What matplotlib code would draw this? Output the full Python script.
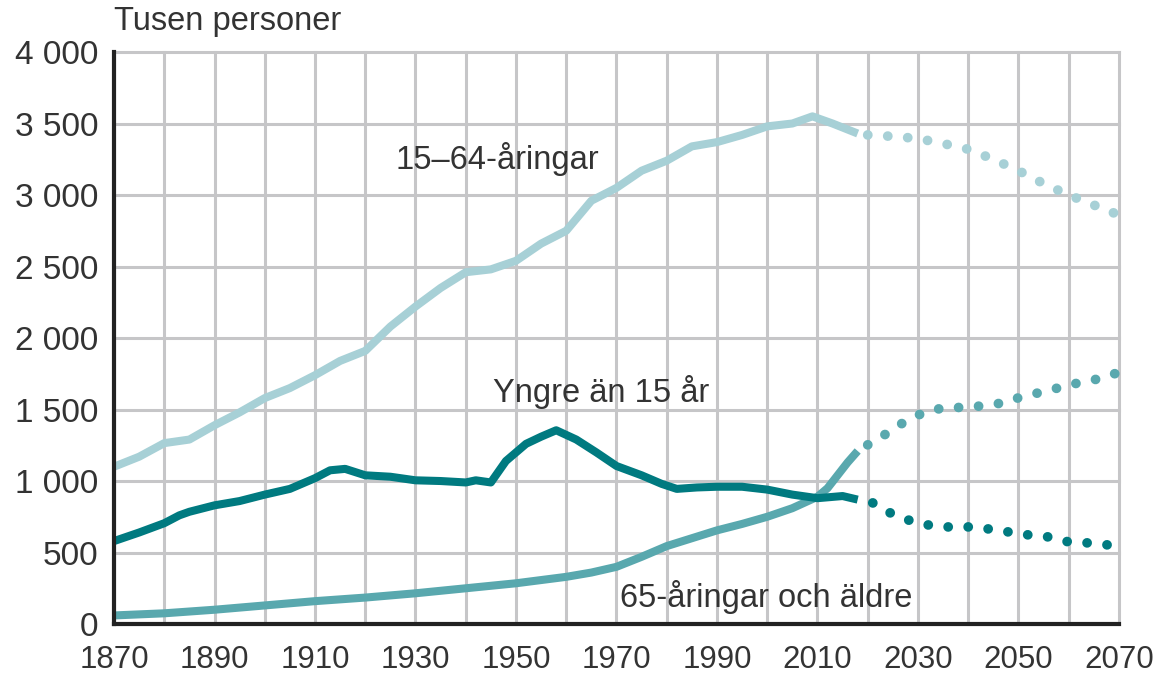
import matplotlib.pyplot as plt
import matplotlib.ticker as mticker

plt.rcParams['font.family'] = ['Liberation Sans', 'DejaVu Sans']

# Data (tusen personer)
yr_1564 = [1870, 1875, 1880, 1885, 1890, 1895, 1900, 1905, 1910, 1915, 1920, 1925,
           1930, 1935, 1940, 1945, 1950, 1955, 1960, 1965, 1970, 1975, 1980, 1985,
           1990, 1995, 2000, 2005, 2009, 2013, 2018]
val_1564 = [1100, 1170, 1265, 1290, 1390, 1480, 1580, 1650, 1740, 1840, 1910, 2080,
            2220, 2350, 2460, 2480, 2540, 2660, 2750, 2960, 3050, 3170, 3240, 3340,
            3370, 3420, 3480, 3500, 3550, 3500, 3430]
yr_1564_p = [2018, 2020, 2025, 2030, 2035, 2040, 2045, 2050, 2055, 2060, 2065, 2070]
val_1564_p = [3430, 3420, 3410, 3395, 3360, 3320, 3250, 3170, 3080, 3000, 2930, 2860]

yr_u15 = [1870, 1875, 1880, 1883, 1885, 1890, 1895, 1900, 1905, 1910, 1913, 1916,
          1920, 1925, 1930, 1935, 1940, 1942, 1945, 1948, 1952, 1955, 1958, 1962,
          1966, 1970, 1975, 1979, 1982, 1986, 1990, 1995, 2000, 2005, 2010, 2015, 2018]
val_u15 = [580, 640, 705, 760, 785, 830, 860, 905, 945, 1020, 1075, 1085,
           1040, 1030, 1005, 1000, 990, 1005, 990, 1140, 1260, 1310, 1355, 1290,
           1200, 1105, 1040, 980, 945, 955, 960, 960, 940, 905, 880, 895, 870]
yr_u15_p = [2018, 2021, 2024, 2028, 2032, 2036, 2040, 2044, 2048, 2052, 2056, 2060,
            2064, 2070]
val_u15_p = [870, 847, 784, 728, 693, 679, 679, 665, 644, 623, 609, 574, 567, 545]

yr_65 = [1870, 1880, 1890, 1900, 1910, 1920, 1930, 1940, 1950, 1960, 1965, 1970,
         1975, 1980, 1985, 1990, 1995, 2000, 2005, 2010, 2012, 2014, 2016, 2018]
val_65 = [60, 75, 100, 130, 160, 185, 215, 250, 285, 330, 360, 400,
          470, 545, 600, 655, 700, 750, 810, 890, 950, 1040, 1130, 1210]
yr_65_p = [2018, 2020, 2024, 2027, 2031, 2035, 2039, 2043, 2047, 2050, 2054, 2058,
           2062, 2066, 2070]
val_65_p = [1210, 1253, 1337, 1407, 1477, 1512, 1515, 1526, 1547, 1582, 1617, 1652,
            1687, 1715, 1760]

c_1564 = '#a7d0d6'
c_u15 = '#007a80'
c_65 = '#59a8ae'
txt = '#333333'

fig = plt.figure(figsize=(11.61, 6.78), dpi=100)
ax = fig.add_axes([0.0982, 0.0796, 0.8656, 0.8437])

dots = (0, (0.01, 2.05))
for yr, val, yp, vp, c in [(yr_1564, val_1564, yr_1564_p, val_1564_p, c_1564),
                           (yr_65, val_65, yr_65_p, val_65_p, c_65),
                           (yr_u15, val_u15, yr_u15_p, val_u15_p, c_u15)]:
    ax.plot(yr, val, color=c, lw=5.8, solid_capstyle='butt', solid_joinstyle='round', zorder=3)
    ax.plot(yp[1:], vp[1:], color=c, lw=7, linestyle=dots, dash_capstyle='round',
            zorder=3, clip_on=False)

ax.set_xlim(1870, 2070)
ax.set_ylim(0, 4000)
ax.set_xticks(range(1870, 2071, 10))
ax.xaxis.set_major_formatter(mticker.FuncFormatter(lambda v, p: f"{int(v)}" if int(v) % 20 == 10 else ""))
ax.set_yticks(range(0, 4001, 500))
ax.yaxis.set_major_formatter(mticker.FuncFormatter(lambda v, p: f"{int(v):,}".replace(',', ' ')))

ax.grid(True, color='#c6c6c8', lw=2.2, zorder=0)
ax.set_axisbelow(True)
for t in ax.xaxis.get_major_ticks() + ax.yaxis.get_major_ticks():
    t.gridline.set_clip_on(False)

ax.tick_params(length=0, labelcolor=txt)
ax.tick_params(axis='y', pad=11, labelsize=24)
ax.tick_params(axis='x', pad=15, labelsize=22.5)

for s in ['top', 'right']:
    ax.spines[s].set_visible(False)
for s in ['left', 'bottom']:
    ax.spines[s].set_color('#222222')
    ax.spines[s].set_linewidth(3)
    ax.spines[s].set_zorder(5)

fs = 23.5
ax.text(1870, 4214, 'Tusen personer', fontsize=fs, color=txt, va='center', ha='left', clip_on=False)
ax.text(1926.1, 3250, '15–64-åringar', fontsize=fs, color=txt, va='center', ha='left')
ax.text(1945.4, 1624, 'Yngre än 15 år', fontsize=fs, color=txt, va='center', ha='left')
ax.text(1970.7, 189, '65-åringar och äldre', fontsize=fs, color=txt, va='center', ha='left')

fig.savefig('out.png', dpi=100)
